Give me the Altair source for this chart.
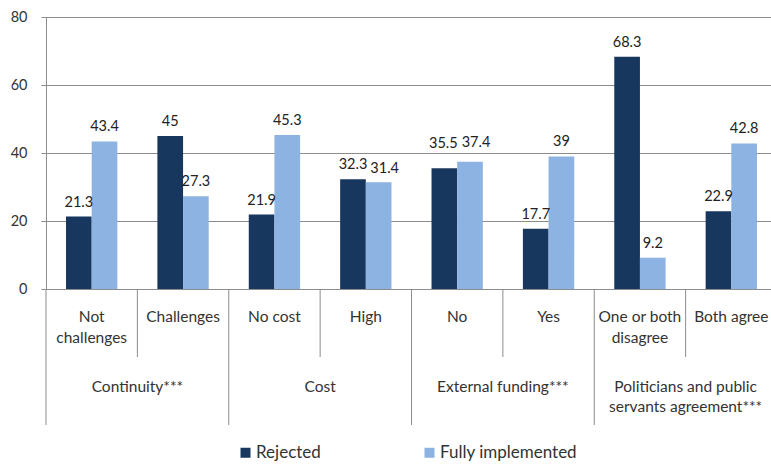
import altair as alt
import pandas as pd

subs = ["Not\nchallenges", "Challenges", "No cost", "High", "No", "Yes",
        "One or both\ndisagree", "Both agree"]
groups = ["Continuity***", "Cost", "External funding***",
          "Politicians and public\nservants agreement***"]
series = ["Rejected", "Fully implemented"]
rejected = [21.3, 45, 21.9, 32.3, 35.5, 17.7, 68.3, 22.9]
fully = [43.4, 27.3, 45.3, 31.4, 37.4, 39, 9.2, 42.8]

DARK = "#17375e"
LIGHT = "#8db3e2"
GRID = "#8c8c8c"
TXT = "#333333"
FONT = "Lato"

rows = []
for i, s in enumerate(subs):
    for name, vals in zip(series, [rejected, fully]):
        v = vals[i]
        rows.append({"sub": s, "series": name, "value": v, "label": f"{v:g}"})
bars_df = pd.DataFrame(rows)

subs_df = pd.DataFrame({"sub": subs, "text": [s.split("\n") for s in subs]})
grp_df = pd.DataFrame({"sub": [subs[2 * g] for g in range(len(groups))],
                       "text": [g.split("\n") for g in groups]})
minor_df = pd.DataFrame({"sub": [subs[i] for i in (1, 3, 5, 7)]})
major_df = pd.DataFrame({"sub": [subs[i] for i in (0, 2, 4, 6)]})

xscale = alt.Scale(domain=subs, range=[0, 731], paddingInner=0, paddingOuter=0)

def X(bp=None):
    if bp is None:
        return alt.X("sub:N", scale=xscale, sort=subs, axis=None)
    return alt.X("sub:N", scale=xscale, sort=subs, axis=None, bandPosition=bp)

xoff = alt.XOffset("series:N", sort=series,
                   scale=alt.Scale(domain=series, paddingOuter=0.78, paddingInner=0))

yenc = alt.Y("value:Q",
             scale=alt.Scale(domain=[0, 80], nice=False),
             axis=alt.Axis(values=[0, 20, 40, 60, 80], title=None, grid=True,
                           gridColor=GRID, domainColor=GRID, tickColor=GRID,
                           tickSize=5, labelPadding=14, labelFontSize=14.5,
                           labelColor=TXT, labelFont=FONT))

bars = alt.Chart(bars_df).mark_bar().encode(
    x=X(), xOffset=xoff, y=yenc,
    color=alt.Color("series:N",
                    scale=alt.Scale(domain=series, range=[DARK, LIGHT]),
                    legend=alt.Legend(title=None, orient="none", direction="horizontal",
                                      legendX=191, legendY=427, symbolType="square",
                                      symbolSize=100, symbolStrokeWidth=0,
                                      labelFontSize=17, labelFont=FONT,
                                      labelColor=TXT, labelOffset=2,
                                      columnPadding=100)),
)

# label placements: Excel nudged three labels apart to avoid overlaps
t1 = "datum.sub == 'No' && datum.series == 'Rejected'"
t2 = "datum.sub == 'High' && datum.series == 'Fully implemented'"
t3 = "datum.sub == 'No' && datum.series == 'Fully implemented'"

def val_layer(flt, dx=0, dy=-10):
    return alt.Chart(bars_df).transform_filter(flt).mark_text(
        baseline="alphabetic", dx=dx, dy=dy, fontSize=14.5,
        font=FONT, color="#222222").encode(
        x=X(), xOffset=xoff, y="value:Q", text="label:N")

vals = val_layer(f"!({t1}) && !({t2}) && !({t3})")
v1 = val_layer(t1, dx=-1, dy=-20)
v2 = val_layer(t2, dx=6, dy=-9)
v3 = val_layer(t3, dx=6, dy=-15)

sub_text = alt.Chart(subs_df).mark_text(baseline="alphabetic", align="center",
                                        fontSize=15.5, font=FONT, color=TXT,
                                        lineHeight=21).encode(
    x=X(), y=alt.value(305), text="text")

grp_text = alt.Chart(grp_df).mark_text(baseline="alphabetic", align="center",
                                       fontSize=15.5, font=FONT, color=TXT,
                                       lineHeight=20).encode(
    x=X(1), y=alt.value(375), text="text")

minor = alt.Chart(minor_df).mark_rule(color=GRID, strokeWidth=1).encode(
    x=X(0), y=alt.value(272), y2=alt.value(340))
major = alt.Chart(major_df).mark_rule(color=GRID, strokeWidth=1).encode(
    x=X(0), y=alt.value(272), y2=alt.value(408))

chart = alt.layer(bars, vals, v1, v2, v3, sub_text, grp_text, minor, major).properties(
    width=725, height=272,
    autosize=alt.AutoSizeParams(type="none"),
    padding={"left": 46, "top": 17, "right": 0, "bottom": 175},
).configure_view(stroke=None)

chart.save("out.html", embed_options={"renderer": "svg", "actions": False})
